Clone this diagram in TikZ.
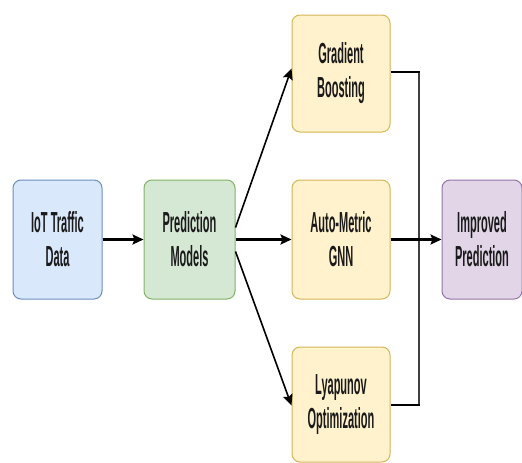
\documentclass[tikz,border=0pt]{standalone}
\usepackage{fontspec}
\setmainfont[FakeStretch=0.38]{Liberation Sans}
\newfontfamily\boxfont[FakeStretch=0.38]{Liberation Sans Bold}
\usetikzlibrary{arrows.meta}
\definecolor{bluefill}{HTML}{DAE8FC}\definecolor{bluedraw}{HTML}{6C8EBF}
\definecolor{greenfill}{HTML}{D5E8D4}\definecolor{greendraw}{HTML}{82B366}
\definecolor{yellowfill}{HTML}{FFF2CC}\definecolor{yellowdraw}{HTML}{D6B656}
\definecolor{purplefill}{HTML}{E1D5E7}\definecolor{purpledraw}{HTML}{9673A6}
\definecolor{txt}{HTML}{1A1A1A}
\tikzset{
  boxstyle/.style={rectangle, rounded corners=8pt, line width=1pt, align=center,
    inner sep=0pt, text=txt, font=\boxfont\fontsize{29}{34}\selectfont},
  bluebox/.style={boxstyle, fill=bluefill, draw=bluedraw},
  greenbox/.style={boxstyle, fill=greenfill, draw=greendraw},
  yellowbox/.style={boxstyle, fill=yellowfill, draw=yellowdraw},
  purplebox/.style={boxstyle, fill=purplefill, draw=purpledraw},
  arr/.style={-{Stealth[length=11pt,width=10pt,inset=2pt]}, line width=2.2pt, black},
  thinarr/.style={-{Stealth[length=11pt,width=10pt,inset=2pt]}, line width=1.6pt, black},
  seg/.style={line width=2.2pt, black},
  vseg/.style={line width=1.6pt, black!75},
}
\begin{document}
\begin{tikzpicture}[x=1pt,y=-1pt]
\useasboundingbox[fill=white] (0,0) rectangle (522,463);
\node[bluebox, minimum width=89pt, minimum height=119pt] (iot) at (57.5,239.5) {IoT Traffic\\Data};
\node[greenbox, minimum width=91pt, minimum height=119pt] (pred) at (189.5,239.5) {Prediction\\Models};
\node[yellowbox, minimum width=98pt, minimum height=117pt] (gb) at (341,73.5) {Gradient\\Boosting};
\node[yellowbox, minimum width=98pt, minimum height=119pt] (gnn) at (341,239.5) {Auto-Metric\\GNN};
\node[yellowbox, minimum width=98pt, minimum height=115pt] (lyap) at (341,404.5) {Lyapunov\\Optimization};
\node[purplebox, minimum width=80pt, minimum height=119pt] (imp) at (482,239.5) {Improved\\Prediction};
\coordinate (jt) at (419,72);
\coordinate (jb) at (419,405);
\draw[arr] (iot.east) -- (pred.west);
\draw[thinarr] ([yshift=12pt]pred.east) -- ([yshift=5pt]gb.west);
\draw[arr] (pred.east) -- (gnn.west);
\draw[thinarr] ([yshift=-12pt]pred.east) -- ([yshift=-1pt]lyap.west);
\draw[vseg] (jt) -- (jb);
\draw[seg] (gb.east |- jt) -- ([xshift=0.8pt]jt);
\draw[seg] (lyap.east |- jb) -- ([xshift=0.8pt]jb);
\draw[arr] (gnn.east) -- (imp.west);
\end{tikzpicture}
\end{document}
